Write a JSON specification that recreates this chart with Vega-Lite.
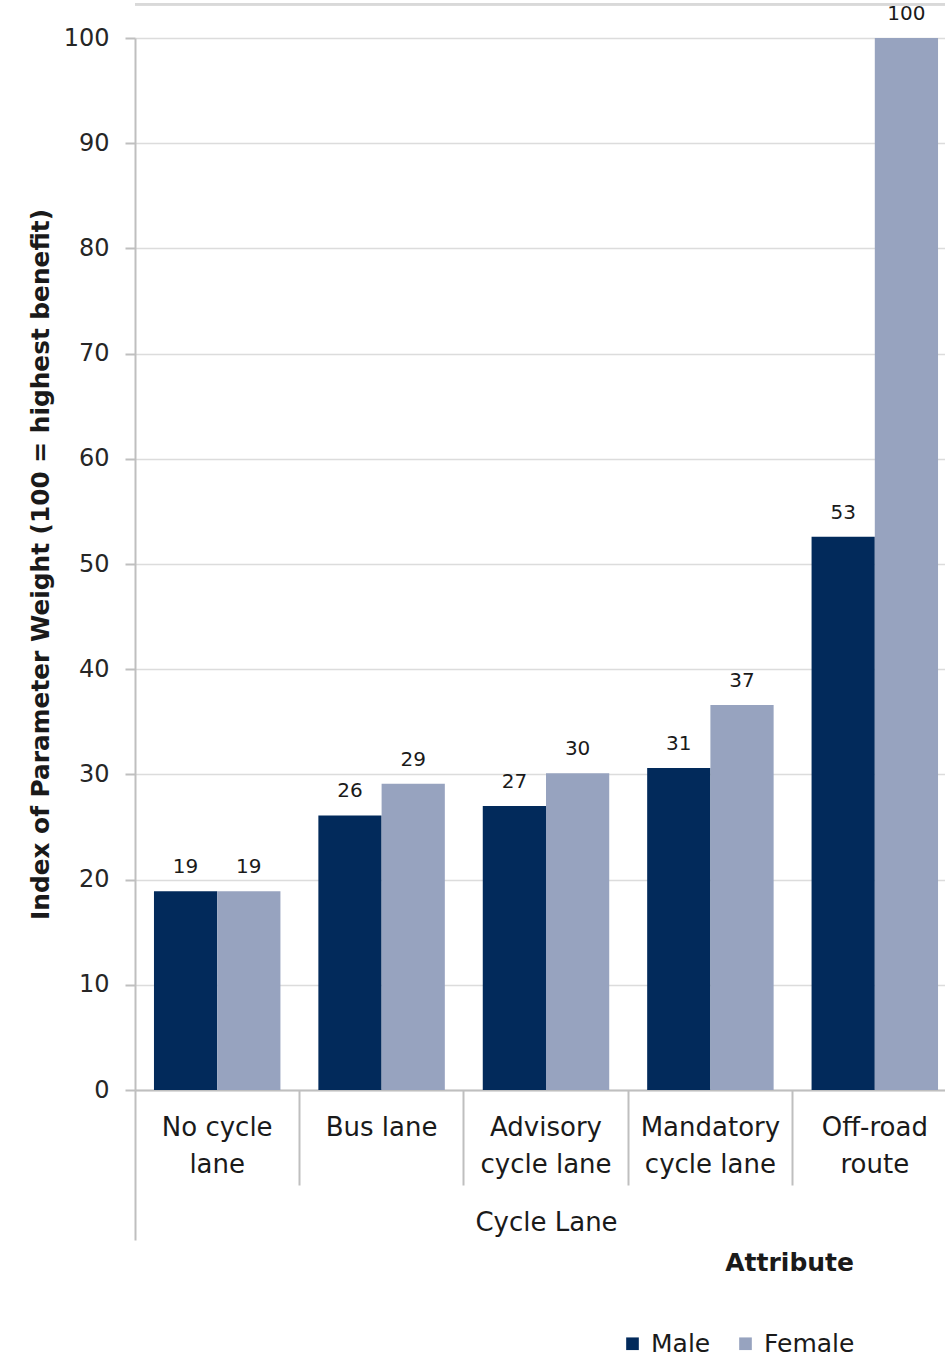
{
  "$schema": "https://vega.github.io/schema/vega-lite/v6.json",
  "width": 822,
  "height": 1052,
  "autosize": {"type": "none"},
  "padding": {"left": 135, "top": 38, "right": 0, "bottom": 269},
  "background": "white",
  "config": {"font": "DejaVu Sans", "view": {"stroke": null}},
  "data": {
    "values": [
      {"Category": "No cycle lane", "Sex": "Male", "Index": 18.9},
      {"Category": "No cycle lane", "Sex": "Female", "Index": 18.9},
      {"Category": "Bus lane", "Sex": "Male", "Index": 26.1},
      {"Category": "Bus lane", "Sex": "Female", "Index": 29.1},
      {"Category": "Advisory cycle lane", "Sex": "Male", "Index": 27.0},
      {"Category": "Advisory cycle lane", "Sex": "Female", "Index": 30.1},
      {"Category": "Mandatory cycle lane", "Sex": "Male", "Index": 30.6},
      {"Category": "Mandatory cycle lane", "Sex": "Female", "Index": 36.6},
      {"Category": "Off-road route", "Sex": "Male", "Index": 52.6},
      {"Category": "Off-road route", "Sex": "Female", "Index": 100}
    ]
  },
  "encoding": {
    "x": {
      "field": "Category",
      "type": "nominal",
      "sort": ["No cycle lane", "Bus lane", "Advisory cycle lane", "Mandatory cycle lane", "Off-road route"],
      "scale": {"paddingInner": 0, "paddingOuter": 0},
      "axis": {
        "title": "Cycle Lane",
        "titleFontSize": 26,
        "titleFontWeight": "normal",
        "titleColor": "#1a1a1a",
        "titleY": 132,
        "titleBaseline": "middle",
        "labelAngle": 0,
        "labelFontSize": 26,
        "labelColor": "#1a1a1a",
        "labelLimit": 0,
        "labelLineHeight": 37,
        "labelBaseline": "top",
        "labelExpr": "datum.label == 'No cycle lane' ? ['No cycle', 'lane'] : datum.label == 'Advisory cycle lane' ? ['Advisory', 'cycle lane'] : datum.label == 'Mandatory cycle lane' ? ['Mandatory', 'cycle lane'] : datum.label == 'Off-road route' ? ['Off-road', 'route'] : datum.label",
        "labelPadding": {"condition": {"test": "datum.value == 'No cycle lane'", "value": -126}, "value": -71},
        "bandPosition": 0,
        "tickSize": {"condition": {"test": "datum.value == 'No cycle lane'", "value": 150}, "value": 95},
        "tickColor": "#bfbfbf",
        "tickWidth": 2,
        "domainColor": "#bfbfbf",
        "domainWidth": 2,
        "grid": false
      }
    },
    "xOffset": {"field": "Sex", "sort": ["Male", "Female"], "scale": {"paddingInner": 0, "paddingOuter": 0.3}},
    "y": {
      "field": "Index",
      "type": "quantitative",
      "scale": {"domain": [0, 100], "nice": false},
      "axis": {
        "title": "Index of Parameter Weight (100 = highest benefit)",
        "titleFontSize": 24.8,
        "titleFontWeight": "bold",
        "titleColor": "#1a1a1a",
        "titlePadding": 10,
        "values": [0, 10, 20, 30, 40, 50, 60, 70, 80, 90, 100],
        "labelFontSize": 24,
        "labelColor": "#262626",
        "labelPadding": 16,
        "tickSize": 10,
        "tickColor": "#bfbfbf",
        "tickWidth": 2,
        "domainColor": "#bfbfbf",
        "domainWidth": 2,
        "gridColor": "#dcdcdc",
        "gridWidth": 1.5
      }
    }
  },
  "layer": [
    {
      "mark": {"type": "bar"},
      "encoding": {
        "color": {
          "field": "Sex",
          "type": "nominal",
          "scale": {"domain": ["Male", "Female"], "range": ["#022a5b", "#97a3bf"]},
          "legend": {
            "title": "Attribute",
            "titleFontSize": 25,
            "titleFontWeight": "bold",
            "titleColor": "#1a1a1a",
            "titleOrient": "top",
            "titleAnchor": "end",
            "titlePadding": 55,
            "orient": "none",
            "legendX": 485,
            "legendY": 1213,
            "direction": "horizontal",
            "symbolType": "square",
            "symbolSize": 160,
            "symbolStrokeWidth": 0,
            "labelFontSize": 25,
            "labelColor": "#1a1a1a",
            "labelOffset": 6,
            "columnPadding": 22
          }
        }
      }
    },
    {
      "mark": {"type": "text", "baseline": "bottom", "dy": -14, "fontSize": 20, "color": "#1a1a1a"},
      "encoding": {"text": {"field": "Index", "type": "quantitative", "format": ".0f"}}
    },
    {
      "mark": {"type": "rule", "clip": false, "color": "#d9d9d9", "strokeWidth": 2},
      "encoding": {"y": {"datum": 103.2}, "x": null, "xOffset": null}
    }
  ]
}
